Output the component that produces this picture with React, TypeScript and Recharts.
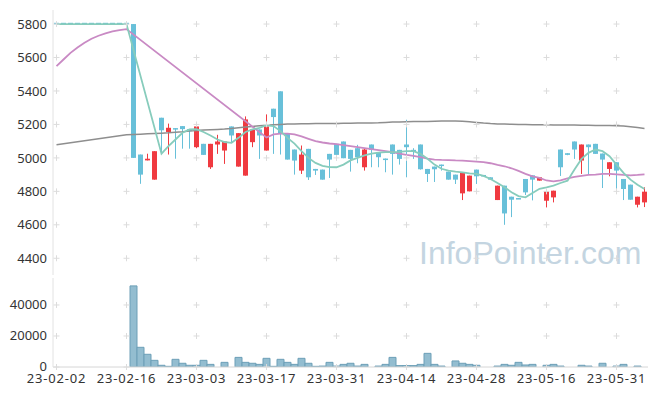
import React from "react";
import {
  ComposedChart,
  Bar,
  Line,
  XAxis,
  YAxis,
  ReferenceDot,
} from "recharts";

const dates = [
  "23-02-02", "23-02-03", "23-02-06", "23-02-07", "23-02-08", "23-02-09", "23-02-10", "23-02-13", "23-02-14", "23-02-15",
  "23-02-16", "23-02-17", "23-02-20", "23-02-21", "23-02-22", "23-02-23", "23-02-24", "23-02-27", "23-02-28", "23-03-02",
  "23-03-03", "23-03-06", "23-03-07", "23-03-08", "23-03-09", "23-03-10", "23-03-13", "23-03-14", "23-03-15", "23-03-16",
  "23-03-17", "23-03-20", "23-03-21", "23-03-22", "23-03-23", "23-03-24", "23-03-27", "23-03-28", "23-03-29", "23-03-30",
  "23-03-31", "23-04-03", "23-04-04", "23-04-05", "23-04-06", "23-04-07", "23-04-10", "23-04-11", "23-04-12", "23-04-13",
  "23-04-14", "23-04-17", "23-04-18", "23-04-19", "23-04-20", "23-04-21", "23-04-24", "23-04-25", "23-04-26", "23-04-27",
  "23-04-28", "23-05-02", "23-05-03", "23-05-04", "23-05-08", "23-05-09", "23-05-10", "23-05-11", "23-05-12", "23-05-15",
  "23-05-16", "23-05-17", "23-05-18", "23-05-19", "23-05-22", "23-05-23", "23-05-24", "23-05-25", "23-05-26", "23-05-30",
  "23-05-31", "23-06-01", "23-06-02", "23-06-05", "23-06-07",
];

const open = [
  5800, 5800, 5800, 5800, 5800, 5800, 5800, 5800, 5800, 5800,
  5800, 5800, 5020, 4985, 4870, 5240, 5155, 5178, 5190, 5172,
  5064, 5084, 4944, 5080, 5044, 5188, 4948, 4894, 5094, 5170,
  5044, 5294, 5398, 5144, 5050, 4924, 5054, 4934, 4930, 5024,
  5084, 5098, 5048, 5058, 4944, 5080, 5034, 4996, 5080, 5048,
  5080, 5048, 5080, 4934, 4948, 4960, 4918, 4900, 4788, 4800,
  4930, 4896, 4884, 4748, 4834, 4768, 4758, 4874, 4896, 4864,
  4744, 4764, 5050, 5028, 5098, 4984, 5080, 5084, 5026, 4934,
  4974, 4874, 4840, 4720, 4734,
];
const high = [
  5800, 5800, 5800, 5800, 5800, 5800, 5800, 5800, 5800, 5800,
  5800, 5800, 5020, 5025, 5040, 5240, 5205, 5178, 5190, 5172,
  5204, 5084, 5084, 5138, 5098, 5188, 5148, 5248, 5170, 5170,
  5260, 5294, 5398, 5144, 5050, 5074, 5054, 4934, 4930, 5024,
  5084, 5098, 5048, 5078, 5058, 5080, 5034, 4996, 5080, 5048,
  5228, 5058, 5080, 4934, 4948, 4960, 4918, 4900, 4914, 4894,
  4930, 4896, 4884, 4834, 4834, 4768, 4758, 4874, 4896, 4884,
  4800, 4804, 5050, 5028, 5098, 5080, 5080, 5084, 5026, 4974,
  4974, 4874, 4840, 4768, 4824,
];
const low = [
  5800, 5800, 5800, 5800, 5800, 5800, 5800, 5800, 5800, 5800,
  5800, 5000, 4845, 4985, 4870, 5030, 5020, 4995, 5055, 5055,
  5058, 5018, 4934, 5024, 4964, 5094, 4948, 4894, 5064, 4994,
  5044, 5024, 5020, 4990, 4900, 4904, 4868, 4898, 4870, 4880,
  4994, 4998, 4918, 4968, 4924, 4944, 4944, 4914, 4900, 4960,
  4884, 4994, 4930, 4856, 4856, 4924, 4870, 4844, 4748, 4800,
  4844, 4892, 4870, 4748, 4600, 4646, 4754, 4778, 4746, 4864,
  4704, 4734, 4892, 5016, 4994, 4904, 4900, 5024, 4820, 4890,
  4814, 4748, 4750, 4704, 4706,
];
const close = [
  5800, 5800, 5800, 5800, 5800, 5800, 5800, 5800, 5800, 5800,
  5800, 5000, 4900, 4995, 5040, 5165, 5180, 5170, 5172, 5160,
  5188, 5018, 5084, 5098, 5098, 5134, 5148, 5230, 5170, 5134,
  5188, 5244, 5144, 4990, 4984, 5020, 4884, 4924, 4870, 4990,
  5018, 4998, 4994, 5004, 5050, 5048, 5004, 4992, 5024, 4994,
  5064, 5040, 4932, 4904, 4932, 4952, 4870, 4870, 4914, 4894,
  4890, 4892, 4870, 4834, 4668, 4750, 4754, 4794, 4870, 4884,
  4800, 4804, 4944, 5018, 5050, 5080, 5064, 5024, 4990, 4974,
  4924, 4814, 4750, 4768, 4798,
];

const volume = [
  0, 0, 0, 0, 0, 0, 0, 0, 0, 0,
  0, 52300, 12700, 8200, 4300, 1100, 430, 4950, 2400, 1100,
  1100, 4300, 1700, 0, 3000, 0, 6200, 3000, 2400, 1700,
  5600, 430, 4950, 3000, 1700, 5600, 2400, 430, 600, 3000,
  600, 1700, 2400, 600, 1700, 0, 600, 1700, 6200, 900,
  900, 900, 1700, 8800, 1700, 600, 0, 3900, 2400, 1700,
  1100, 0, 0, 600, 1700, 1100, 3000, 1300, 1700, 0,
  1100, 1700, 600, 0, 0, 1100, 600, 0, 2400, 0,
  600, 1700, 0, 600, 0,
];

const ma5 = [
  5800, 5800, 5800, 5800, 5800, 5800, 5800, 5800, 5800, 5800,
  5800, null, null, null, null, 5025, 5070, 5110, 5150, 5170,
  5172, 5155, 5134, 5110, 5095, 5090, 5120, 5155, 5170, 5180,
  5195, 5190, 5160, 5120, 5085, 5040, 5000, 4970, 4952, 4945,
  4944, 4960, 4985, 5000, 5015, 5025, 5032, 5034, 5034, 5036,
  5040, 5040, 5024, 4995, 4960, 4935, 4924, 4918, 4914, 4908,
  4904, 4892, 4874, 4850, 4824, 4795, 4772, 4764, 4790, 4815,
  4824, 4834, 4850, 4864, 4930, 4994, 5030, 5050, 5040, 5010,
  4960, 4910, 4870, 4840, 4814,
];
const ma20 = [
  5548, 5588, 5628, 5660, 5688, 5712, 5730, 5744, 5756, 5764,
  5770, null, null, null, null, null, null, null, null, null,
  null, null, null, null, null, null, null, null, null, null,
  5122, 5140, 5145, 5145, 5140, 5128, 5114, 5100, 5092, 5086,
  5082, 5076, 5070, 5064, 5058, 5052, 5046, 5040, 5034, 5026,
  5018, 5012, 5004, 4996, 4990, 4988, 4987, 4985, 4984, 4981,
  4978, 4975, 4968, 4958, 4950, 4938, 4922, 4905, 4890, 4880,
  4865, 4860, 4866, 4878, 4886, 4892, 4898, 4900, 4904, 4905,
  4902, 4898, 4895, 4898, 4902,
];
const ma60 = [
  5078, null, null, null, null, null, null, null, null, null,
  5138, 5140, 5142, 5144, 5146, 5148, 5150, 5153, 5156, 5160,
  5163, 5166, 5168, 5170, 5172, 5175, 5180, 5184, 5188, 5192,
  5195, 5198, 5200, 5202, 5203, 5204, 5204, 5205, 5205, 5206,
  5206, 5207, 5207, 5208, 5208, 5209, 5210, 5212, 5214, 5215,
  5216, 5217, 5218, 5218, 5219, 5220, 5220, 5220, 5219, 5216,
  5212, 5208, 5205, 5203, 5202, 5201, 5200, 5199, 5198, 5198,
  5198, 5197, 5197, 5196, 5196, 5195, 5195, 5194, 5194, 5194,
  5192, 5190, 5186, 5181, 5176,
];

const dateTicks = [
  "23-02-02", "23-02-16", "23-03-03", "23-03-17", "23-03-31",
  "23-04-14", "23-04-28", "23-05-16", "23-05-31",
];
const priceTicks = [4400, 4600, 4800, 5000, 5200, 5400, 5600, 5800];
const volumeTicks = [0, 20000, 40000];

const data = dates.map((date, i) => ({
  date,
  open: open[i],
  high: high[i],
  low: low[i],
  close: close[i],
  volume: volume[i],
  ma5: ma5[i],
  ma20: ma20[i],
  ma60: ma60[i],
}));

const UP = "#f03a40";
const DOWN = "#68c0d9";
const FRAME = "#e2e2e2";
const FONT = "'Noto Sans', sans-serif";
const tickStyle = { fill: "#333", fontSize: 13, fontFamily: FONT };

function Candle(props: any) {
  let { x, y, width, height } = props;
  const { open: o, close: c, high: h, low: l } = props.payload;
  if (height < 0) {
    y = y + height;
    height = -height;
  }
  const color = c > o ? UP : DOWN;
  const cx = x + width / 2;
  if (h === l) {
    // flat day (no trades): draw a short dash at the price
    const yy = y + height / 2;
    return <rect x={x} y={yy - 0.75} width={width} height={1.5} fill={color} />;
  }
  const k = height / (h - l);
  const yo = y + (h - o) * k;
  const yc = y + (h - c) * k;
  const top = Math.min(yo, yc);
  const bh = Math.max(1.5, Math.abs(yo - yc));
  return (
    <g>
      <line x1={cx} x2={cx} y1={y} y2={y + height} stroke={color} strokeWidth={1} />
      <rect x={x} y={top} width={width} height={bh} fill={color} />
    </g>
  );
}

function Cross(props: any) {
  const { cx, cy } = props;
  return (
    <path
      d={`M${cx - 3},${cy}h6M${cx},${cy - 3}v6`}
      stroke="#dcdcdc"
      strokeWidth={1}
      fill="none"
    />
  );
}

function crosses(values: number[], prefix: string) {
  const out: React.ReactNode[] = [];
  dateTicks.forEach((d) => {
    values.forEach((v) => {
      out.push(
        <ReferenceDot
          key={`${prefix}-${d}-${v}`}
          x={d}
          y={v}
          r={0}
          ifOverflow="visible"
          shape={Cross}
        />
      );
    });
  });
  return out;
}

export default function App() {
  return (
    <div style={{ position: "absolute", left: 0, top: 0, width: 657, height: 396 }}>
      <div
        style={{
          position: "absolute",
          left: 419,
          top: 233,
          fontFamily: "'Liberation Sans', Arial, sans-serif",
          fontSize: 32,
          lineHeight: "40px",
          color: "#c4d5e1",
          whiteSpace: "nowrap",
        }}
      >
        InfoPointer.com
      </div>
      <div style={{ position: "absolute", left: 0, top: 0 }}>
        <ComposedChart
          width={657}
          height={280}
          data={data}
          margin={{ top: 10, right: 9, bottom: 5, left: 0 }}
        >
          <XAxis dataKey="date" hide />
          <XAxis
            xAxisId="frame"
            orientation="top"
            dataKey="date"
            height={0}
            tick={false}
            tickLine={false}
            axisLine={{ stroke: FRAME }}
          />
          <YAxis
            domain={[4300, 5884]}
            ticks={priceTicks}
            allowDataOverflow
            width={53}
            tickLine={false}
            tickSize={0}
            tickMargin={6}
            axisLine={{ stroke: FRAME }}
            tick={tickStyle}
          />
          <YAxis
            yAxisId="frame"
            orientation="right"
            domain={[0, 1]}
            width={0}
            tick={false}
            tickLine={false}
            axisLine={{ stroke: FRAME }}
          />
          {crosses(priceTicks, "p")}
          <Bar
            dataKey={(d: any) => [d.low, d.high]}
            barSize={5}
            minPointSize={1}
            shape={Candle}
            isAnimationActive={false}
          />
          <Line
            dataKey="ma60"
            type="linear"
            stroke="#8e8e8e"
            strokeWidth={1.5}
            dot={false}
            connectNulls
            isAnimationActive={false}
          />
          <Line
            dataKey="ma20"
            type="linear"
            stroke="#c98ac4"
            strokeWidth={1.8}
            dot={false}
            connectNulls
            isAnimationActive={false}
          />
          <Line
            dataKey="ma5"
            type="linear"
            stroke="#87ccbc"
            strokeWidth={1.8}
            dot={false}
            connectNulls
            isAnimationActive={false}
          />
        </ComposedChart>
      </div>
      <div style={{ position: "absolute", left: 0, top: 270 }}>
        <ComposedChart
          width={657}
          height={126}
          data={data}
          margin={{ top: 8, right: 9, bottom: 0, left: 0 }}
          barCategoryGap={0}
        >
          <XAxis
            dataKey="date"
            ticks={dateTicks}
            interval={0}
            height={29}
            tickLine={false}
            tickSize={0}
            tickMargin={7}
            axisLine={{ stroke: "#d6d6d6" }}
            tick={{ ...tickStyle, letterSpacing: 0.8 }}
          />
          <XAxis
            xAxisId="frame"
            orientation="top"
            dataKey="date"
            height={0}
            tick={false}
            tickLine={false}
            axisLine={{ stroke: FRAME }}
          />
          <YAxis
            domain={[0, 57400]}
            ticks={volumeTicks}
            allowDataOverflow
            width={53}
            tickLine={false}
            tickSize={0}
            tickMargin={6}
            axisLine={{ stroke: FRAME }}
            tick={{ ...tickStyle, dy: -1 }}
          />
          <YAxis
            yAxisId="frame"
            orientation="right"
            domain={[0, 1]}
            width={0}
            tick={false}
            tickLine={false}
            axisLine={{ stroke: FRAME }}
          />
          {crosses(volumeTicks, "v")}
          <Bar
            dataKey="volume"
            fill="#93bdd0"
            stroke="#6c9fb7"
            strokeWidth={1}
            isAnimationActive={false}
          />
        </ComposedChart>
      </div>
    </div>
  );
}
